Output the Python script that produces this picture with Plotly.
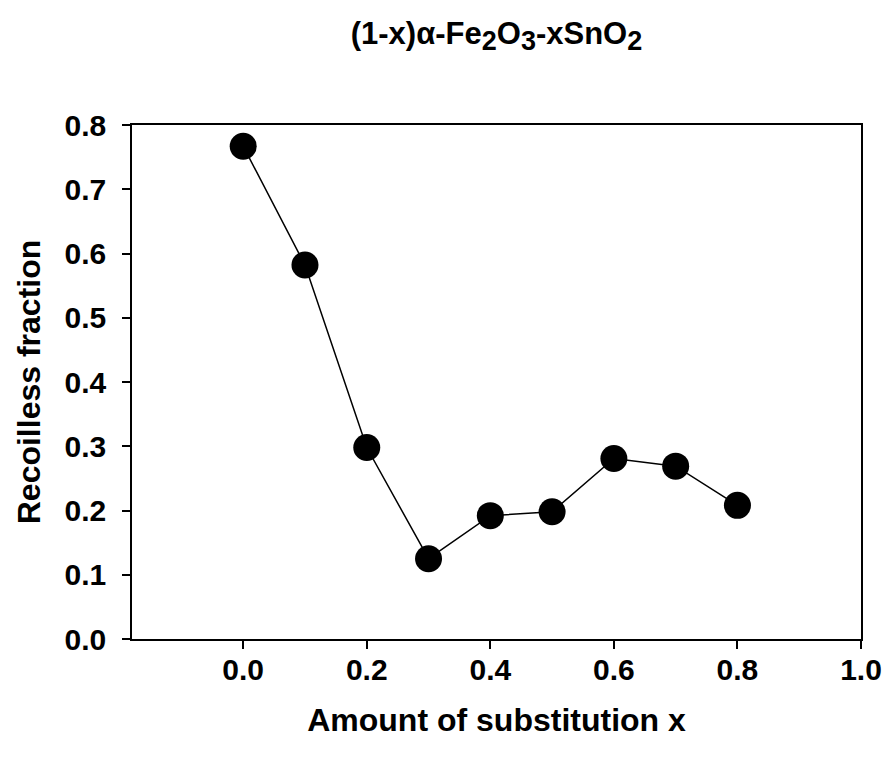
import plotly.graph_objects as go

x_values = [0.0, 0.1, 0.2, 0.3, 0.4, 0.5, 0.6, 0.7, 0.8]
recoilless = [0.767, 0.582, 0.298, 0.125, 0.192, 0.198, 0.281, 0.269, 0.208]
x_ticks = [0.0, 0.2, 0.4, 0.6, 0.8, 1.0]
y_ticks = [0.0, 0.1, 0.2, 0.3, 0.4, 0.5, 0.6, 0.7, 0.8]

FONT = "Liberation Sans, Arial, sans-serif"


def sub(s):
    return f"<sub><span style='font-size:27px'>{s}</span></sub>"


title_text = f"<b>(1-x)α-Fe{sub('2')}O{sub('3')}-xSnO{sub('2')}</b>"

fig = go.Figure()
fig.add_trace(go.Scatter(
    x=x_values, y=recoilless, mode="lines+markers",
    line=dict(color="black", width=1.5),
    marker=dict(color="black", size=27, line=dict(width=0)),
    showlegend=False,
))

fig.update_layout(
    width=894, height=757,
    margin=dict(l=132, r=29, t=125, b=118),
    paper_bgcolor="white", plot_bgcolor="white",
    font=dict(family=FONT, color="black"),
    title=dict(
        text=title_text,
        x=0.5, xref="paper", xanchor="center",
        y=(757 - 33) / 757, yref="container", yanchor="middle",
        font=dict(size=31, family=FONT, color="black"),
    ),
    xaxis=dict(
        range=[-0.18, 1.0], tickvals=x_ticks,
        ticktext=[f"<b>{v:.1f}</b>" for v in x_ticks],
        ticks="outside", ticklen=8, tickwidth=1.5, tickcolor="black",
        showline=True, linecolor="black", linewidth=1.5, mirror=True,
        showgrid=False, zeroline=False, ticklabelstandoff=-5,
        tickfont=dict(size=30, family=FONT),
        title=dict(text="<b>Amount of substitution x</b>",
                   font=dict(size=32, family=FONT), standoff=24),
    ),
    yaxis=dict(
        range=[0.0, 0.8], tickvals=y_ticks,
        ticktext=[f"<b>{v:.1f}</b>" for v in y_ticks],
        ticks="outside", ticklen=8, tickwidth=1.5, tickcolor="black",
        showline=True, linecolor="black", linewidth=1.5, mirror=True,
        showgrid=False, zeroline=False, ticklabelstandoff=10,
        tickfont=dict(size=30, family=FONT),
        title=dict(text="<b>Recoilless fraction</b>",
                   font=dict(size=32, family=FONT), standoff=14),
    ),
)

fig.write_html("out.html")
